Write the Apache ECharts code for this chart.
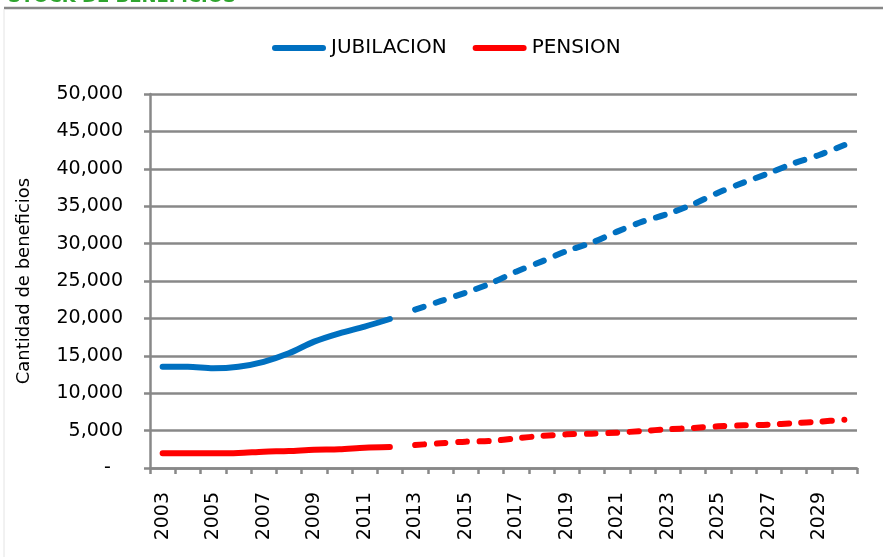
<!DOCTYPE html>
<html>
<head>
<meta charset="utf-8">
<script src="https://cdn.jsdelivr.net/npm/echarts@6/dist/echarts.min.js"></script>
<style>
  html, body { margin: 0; padding: 0; background: #fff; }
  #chart { width: 883px; height: 557px; }
</style>
</head>
<body>
<div id="chart"></div>
<script>
// 年份 2003 - 2030
const years = ['2003','2004','2005','2006','2007','2008','2009','2010','2011','2012',
  '2013','2014','2015','2016','2017','2018','2019','2020','2021','2022',
  '2023','2024','2025','2026','2027','2028','2029','2030'];

// 实际值 2003-2012
const jubilacionReal = [13540, 13540, 13330, 13540, 14200, 15330, 16890, 18000, 18900, 19920];
const pensionReal = [1960, 1960, 1960, 2000, 2180, 2270, 2450, 2500, 2720, 2800];

// 预测值 2013-2030
const jubilacionProy = [21170, 22300, 23440, 24690, 26250, 27590, 29010, 30130, 31600, 32930,
  33960, 35250, 36810, 38150, 39400, 40740, 41850, 43180];
const pensionProy = [3080, 3300, 3520, 3610, 3960, 4280, 4500, 4590, 4720, 4950,
  5170, 5350, 5570, 5700, 5790, 6000, 6190, 6460];

const legendNames = ['JUBILACION', 'PENSION'];

document.addEventListener('DOMContentLoaded', function() {
    let chart = echarts.init(document.getElementById('chart'));

    const nReal = jubilacionReal.length;
    const pad = n => new Array(n).fill(null);

    // 实线部分与虚线部分分开
    const jubReal = jubilacionReal.concat(pad(years.length - nReal));
    const penReal = pensionReal.concat(pad(years.length - nReal));
    const jubProy = pad(nReal).concat(jubilacionProy);
    const penProy = pad(nReal).concat(pensionProy);

    const gray = '#888888';
    const font = 'DejaVu Sans';
    const blue = '#0070c0';
    const red = '#ff0000';

    const pill = 'path://M3,0 L51,0 A3,3 0 0 1 51,6 L3,6 A3,3 0 0 1 3,0 Z';

    function lineSeries(name, data, color, dashed) {
        return {
            name: name,
            type: 'line',
            data: data,
            smooth: 0.3,
            showSymbol: false,
            symbol: 'none',
            connectNulls: false,
            itemStyle: { color: color },
            lineStyle: {
                color: color,
                width: 6,
                cap: 'round',
                join: 'round',
                type: dashed ? [9, 12.5] : 'solid'
            }
        };
    }

    const option = {
        animation: false,
        backgroundColor: '#ffffff',
        textStyle: { fontFamily: font },
        graphic: [
            {
                type: 'line',
                shape: { x1: 4, y1: 8, x2: 883, y2: 8 },
                style: { stroke: '#878787', lineWidth: 2.5 }
            },
            {
                type: 'line',
                shape: { x1: 4, y1: 9, x2: 4, y2: 557 },
                style: { stroke: '#e4e4e4', lineWidth: 1 }
            },
            {
                type: 'text',
                x: 8,
                y: 6,
                style: {
                    text: 'STOCK DE BENEFICIOS',
                    fill: '#2fa52f',
                    font: 'bold 18px "DejaVu Sans"',
                    verticalAlign: 'bottom'
                }
            }
        ],
        legend: {
            data: legendNames,
            left: 267,
            top: 33,
            icon: pill,
            itemWidth: 54,
            itemHeight: 6,
            itemGap: 26,
            textStyle: { fontFamily: font, fontSize: 20, color: '#000' }
        },
        grid: {
            left: 150,
            right: 26,
            top: 94,
            bottom: 89,
            containLabel: false
        },
        xAxis: {
            type: 'category',
            data: years,
            boundaryGap: true,
            axisLine: { show: true, lineStyle: { color: gray, width: 2.5 } },
            axisTick: { show: true, interval: 0, length: 6, lineStyle: { color: gray, width: 2.5 } },
            axisLabel: {
                interval: 1,
                rotate: 90,
                margin: 24,
                fontFamily: font,
                fontSize: 19,
                color: '#000'
            },
            splitLine: { show: false }
        },
        yAxis: {
            type: 'value',
            min: 0,
            max: 50000,
            interval: 5000,
            name: 'Cantidad de beneficios',
            nameLocation: 'middle',
            nameGap: 117,
            nameTextStyle: { fontFamily: font, fontSize: 18, color: '#000' },
            axisLine: { show: true, lineStyle: { color: gray, width: 2.5 } },
            axisTick: { show: true, length: 6, lineStyle: { color: gray, width: 2.5 } },
            axisLabel: {
                margin: 27,
                fontFamily: font,
                fontSize: 19,
                color: '#000',
                formatter: function(v) {
                    if (v === 0) return '-  ';
                    return v.toString().replace(/\B(?=(\d{3})+(?!\d))/g, ',');
                }
            },
            splitLine: { show: true, lineStyle: { color: gray, width: 2.5 } }
        },
        series: [
            lineSeries('JUBILACION', jubReal, blue, false),
            lineSeries('PENSION', penReal, red, false),
            lineSeries('JUBILACION', jubProy, blue, true),
            lineSeries('PENSION', penProy, red, true)
        ]
    };

    chart.setOption(option);
});
</script>
</body>
</html>
